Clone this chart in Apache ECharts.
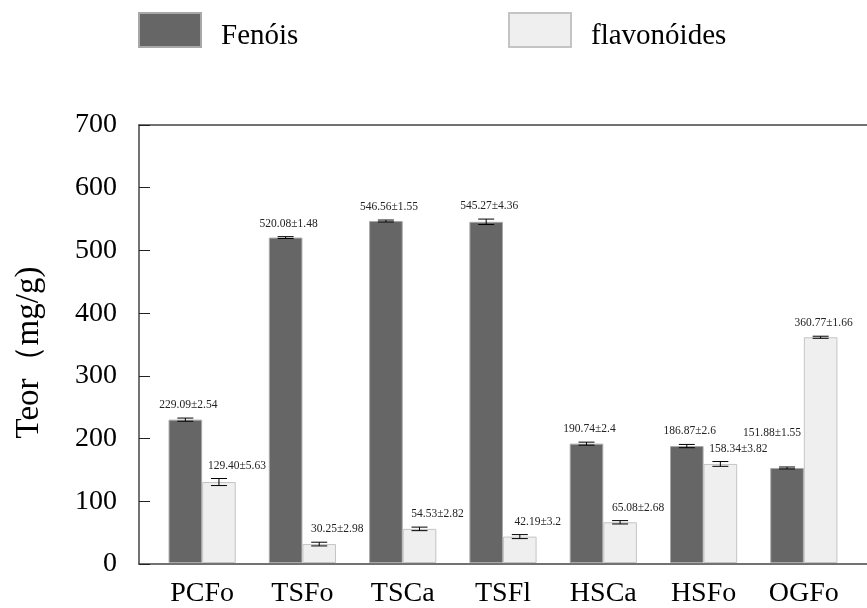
<!DOCTYPE html>
<html><head><meta charset="utf-8">
<script src="https://cdn.jsdelivr.net/npm/echarts@6/dist/echarts.min.js"></script>
<style>html,body{margin:0;padding:0;background:#fff}#c{width:867px;height:608px}</style>
</head><body><div id="c"></div>
<script>
const categories = ['PCFo', 'TSFo', 'TSCa', 'TSFl', 'HSCa', 'HSFo', 'OGFo'];
const fenois = [229.09, 520.08, 546.56, 545.27, 190.74, 186.87, 151.88];
const fenoisErr = [2.54, 1.48, 1.55, 4.36, 2.4, 2.6, 1.55];
const flavonoides = [129.40, 30.25, 54.53, 42.19, 65.08, 158.34, 360.77];
const flavonoidesErr = [5.63, 2.98, 2.82, 3.2, 2.68, 3.82, 1.66];
const yTicks = [0, 100, 200, 300, 400, 500, 600, 700];

const SERIF = '"Liberation Serif", "Times New Roman", serif';
const CAT_GAP = 0.33;
const chart = echarts.init(document.getElementById('c'));

function errData(vals, errs, side, other) {
  return vals.map((v, i) => [i, v, errs[i], side, v < other[i] ? 1 : 0]);
}

function renderErr(params, api) {
  const idx = api.value(0), v = api.value(1), e = api.value(2), side = api.value(3), shorter = api.value(4);
  const band = api.size([1, 0])[0];
  const barW = band * (1 - CAT_GAP) / 2;
  const c = api.coord([idx, v]);
  const x = c[0] + side * barW / 2;
  const yT = api.coord([idx, v + e])[1];
  const yB = api.coord([idx, v - e])[1];
  const cap = 8;
  let shift = 3, lift = 7;
  if (shorter) {
    if (side > 0) { shift = 18; }
    else { shift = -15; lift = 28; }
  }
  const ls = { stroke: '#000', lineWidth: 1 };
  return {
    type: 'group', children: [
      { type: 'line', shape: { x1: x, y1: yT, x2: x, y2: yB }, style: ls },
      { type: 'line', shape: { x1: x - cap, y1: yT, x2: x + cap, y2: yT }, style: ls },
      { type: 'line', shape: { x1: x - cap, y1: yB, x2: x + cap, y2: yB }, style: ls },
      { type: 'text', x: x + shift, y: yT - lift,
        style: { text: v.toFixed(2) + '±' + e, fill: '#222', font: '11.5px ' + SERIF, align: 'center', verticalAlign: 'bottom' } }
    ]
  };
}

const legendBase = {
  top: 7, itemWidth: 62, itemHeight: 34, icon: 'rect', selectedMode: false,
  formatter: '{a|{name}}',
  textStyle: {
    fontFamily: SERIF, fontSize: 29, color: '#000', padding: [0, 0, 0, 15],
    rich: { a: { fontFamily: SERIF, fontSize: 29, color: '#000', padding: [12, 0, 0, 0] } }
  }
};

chart.setOption({
  animation: false,
  backgroundColor: '#fff',
  legend: [
    Object.assign({}, legendBase, { data: ['Fenóis'], left: 133 }),
    Object.assign({}, legendBase, { data: ['flavonóides'], left: 503 })
  ],
  grid: [
    { left: 152, width: 702, top: 125, bottom: 44 },
    { left: 139, right: 0, top: 125, bottom: 44 }
  ],
  xAxis: [
    { type: 'category', gridIndex: 0, data: categories,
      axisLine: { show: false }, axisTick: { show: false },
      axisLabel: { fontFamily: SERIF, fontSize: 28, color: '#000', margin: 17 } },
    { type: 'value', gridIndex: 1, min: 0, max: 1, position: 'bottom',
      axisLine: { show: true, lineStyle: { color: '#444', width: 1.5 } },
      axisTick: { show: false }, axisLabel: { show: false }, splitLine: { show: false } },
    { type: 'value', gridIndex: 1, min: 0, max: 1, position: 'top',
      axisLine: { show: true, lineStyle: { color: '#444', width: 1.5 } },
      axisTick: { show: false }, axisLabel: { show: false }, splitLine: { show: false } }
  ],
  yAxis: [
    { type: 'value', gridIndex: 0, min: 0, max: 700, interval: 100, show: false },
    { type: 'value', gridIndex: 1, min: yTicks[0], max: yTicks[yTicks.length - 1], interval: 100,
      name: 'Teor（mg/g)', nameLocation: 'middle', nameGap: 93,
      nameTextStyle: { fontFamily: SERIF, fontSize: 33, color: '#000', padding: [0, 16, 0, 0] },
      axisLine: { show: true, lineStyle: { color: '#444', width: 1.5 } },
      axisTick: { show: true, inside: true, length: 11, lineStyle: { color: '#222', width: 1 } },
      axisLabel: { fontFamily: SERIF, fontSize: 28, color: '#000', margin: 22 },
      splitLine: { show: false } }
  ],
  series: [
    { name: 'Fenóis', type: 'bar', xAxisIndex: 0, yAxisIndex: 0, data: fenois,
      barGap: '0%', barCategoryGap: (CAT_GAP * 100) + '%',
      itemStyle: { color: '#666666', borderColor: '#a8a8a8', borderWidth: 1 } },
    { name: 'flavonóides', type: 'bar', xAxisIndex: 0, yAxisIndex: 0, data: flavonoides,
      barGap: '0%', barCategoryGap: (CAT_GAP * 100) + '%',
      itemStyle: { color: '#efefef', borderColor: '#c4c4c4', borderWidth: 1 } },
    { type: 'custom', xAxisIndex: 0, yAxisIndex: 0, renderItem: renderErr, clip: false, z: 5,
      encode: { x: 0, y: 1 }, data: errData(fenois, fenoisErr, -1, flavonoides) },
    { type: 'custom', xAxisIndex: 0, yAxisIndex: 0, renderItem: renderErr, clip: false, z: 5,
      encode: { x: 0, y: 1 }, data: errData(flavonoides, flavonoidesErr, 1, fenois) }
  ]
});
</script></body></html>
